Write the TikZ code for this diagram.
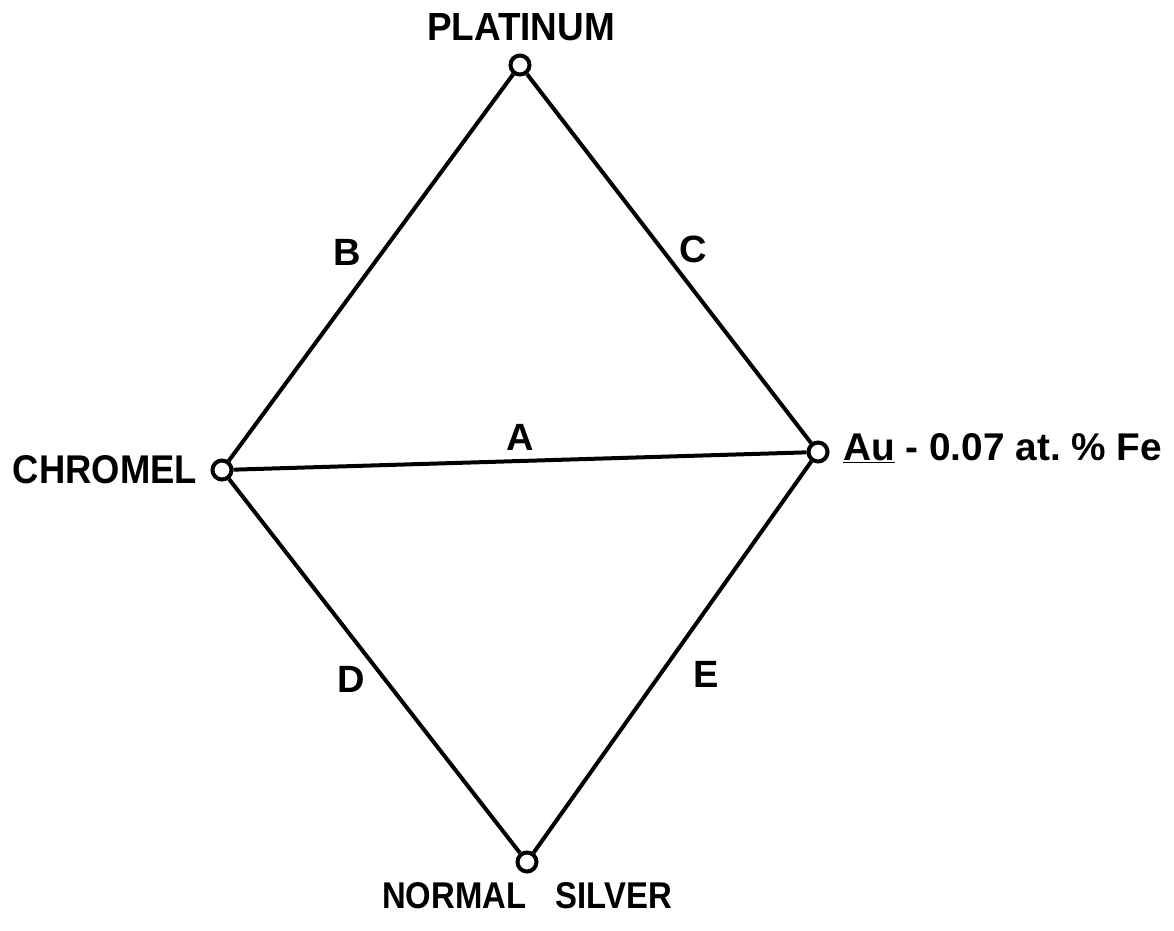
\documentclass[tikz,border=0pt]{standalone}
\usepackage{fontspec}
\usepackage{graphicx}
\setmainfont{Liberation Sans}
\newcommand{\fitlabel}[3]{\resizebox{#1}{#2}{#3}}
\begin{document}
\begin{tikzpicture}[x=1pt,y=-1pt,
  wire/.style={line width=4pt},
  junction/.style={circle,draw,line width=4pt,fill=white,minimum size=19pt,inner sep=0pt},
  lbl/.style={font=\fontsize{38}{44}\selectfont\bfseries,inner sep=0pt,anchor=base}]
\useasboundingbox (0,0) rectangle (1174,930);
\node[junction] (pt) at (520,65) {};
\node[junction] (cr) at (222,470) {};
\node[junction] (au) at (818,452) {};
\node[junction] (ag) at (527,862) {};
\draw[wire] (pt) -- (cr);
\draw[wire] (pt) -- (au);
\draw[wire] (cr) -- (au);
\draw[wire] (cr) -- (ag);
\draw[wire] (au) -- (ag);
\node[lbl] (tpt) at (521,40) {\fitlabel{188pt}{27pt}{PLATINUM}};
\node[lbl] (tcr) at (105,483) {\fitlabel{184pt}{28pt}{CHROMEL}};
\node[lbl,anchor=base west] (tau) at (843,460) {\fitlabel{319pt}{27pt}{\underline{Au} - 0.07 at.\ \% Fe}};
\node[lbl] (tag) at (527,908) {\fitlabel{290pt}{26pt}{NORMAL\hspace{0.9em}SILVER}};
\node[lbl] (lb) at (347,265) {B};
\node[lbl] (lc) at (693,262) {C};
\node[lbl] (la) at (520,450) {A};
\node[lbl] (ld) at (351,692) {D};
\node[lbl] (le) at (706,687) {E};
\end{tikzpicture}
\end{document}
